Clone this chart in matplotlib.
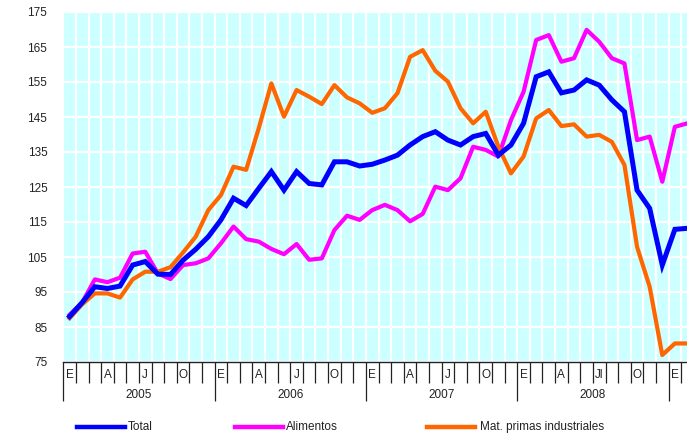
import matplotlib
matplotlib.use("Agg")
import matplotlib.pyplot as plt
from matplotlib.lines import Line2D
import matplotlib.transforms as mtransforms

plt.rcParams['font.family'] = ['Liberation Sans', 'DejaVu Sans']

# monthly index values, Jan 2005 .. Feb 2009
total = [88.0, 92.0, 96.5, 96.0, 96.7, 102.7, 103.7, 100.1, 100.0, 104.1, 107.2, 110.8,
         115.6, 121.8, 119.7, 124.6, 129.4, 124.1, 129.4, 126.0, 125.6, 132.2, 132.2, 131.0,
         131.5, 132.7, 134.1, 137.0, 139.4, 140.8, 138.4, 137.0, 139.4, 140.3, 134.1, 137.0,
         143.2, 156.5, 157.9, 151.9, 152.7, 155.6, 154.1, 149.9, 146.5, 124.1, 118.9, 102.7,
         112.9, 113.2]
alimentos = [88.5, 92.0, 98.6, 97.8, 99.1, 106.0, 106.5, 100.3, 98.7, 102.7, 103.2, 104.6,
             108.9, 113.7, 110.1, 109.4, 107.3, 105.8, 108.7, 104.2, 104.6, 112.7, 116.8, 115.6,
             118.4, 119.9, 118.4, 115.2, 117.3, 125.1, 124.1, 127.5, 136.5, 135.6, 133.7, 144.1,
             152.2, 167.0, 168.4, 160.8, 161.8, 169.9, 166.5, 161.8, 160.3, 138.4, 139.4, 126.5,
             142.2, 143.2]
mat_primas = [87.5, 91.5, 94.6, 94.6, 93.4, 98.6, 100.8, 100.8, 102.1, 106.3, 110.8, 118.4,
              122.7, 130.8, 129.9, 141.8, 154.6, 145.1, 152.7, 150.8, 148.7, 154.1, 150.6, 148.9,
              146.2, 147.5, 151.8, 162.2, 164.1, 158.2, 155.1, 147.5, 143.2, 146.5, 136.5, 128.9,
              133.7, 144.6, 147.0, 142.4, 142.9, 139.4, 139.9, 137.9, 131.3, 107.9, 96.5, 77.0,
              80.3, 80.3]

years = ['2005', '2006', '2007', '2008']
month_labels = {0: 'E', 3: 'A', 6: 'J', 9: 'O'}
yticks = list(range(75, 176, 10))

W, H = 687, 438
fig = plt.figure(figsize=(W / 100, H / 100), dpi=100)
ax = fig.add_axes([63.3 / W, 1 - 362 / H, (W - 63.3) / W, 350 / H])
ax.set_facecolor('#ccffff')

x = [i + 0.5 for i in range(len(total))]
ax.plot(x, total, color='#0000ff', lw=3.6, solid_joinstyle='miter', zorder=5)
ax.plot(x, alimentos, color='#ff00ff', lw=3.0, zorder=4)
ax.plot(x, mat_primas, color='#ff6600', lw=3.0, zorder=4)

ax.set_xlim(0, (W - 63.3) / 12.61)
ax.set_ylim(75, 175)

# grid: white lines at month boundaries and every 10 points
ax.set_xticks(range(0, 50, 12))
ax.set_xticks(range(0, 50), minor=True)
ax.set_xticklabels([])
ax.set_yticks(yticks)
ax.set_yticklabels([str(v) for v in yticks], fontsize=8.5)
ax.grid(True, which='both', axis='x', color='white', lw=1.6)
ax.grid(True, which='major', axis='y', color='white', lw=1.6)
ax.set_axisbelow(True)
ax.tick_params(axis='y', length=0, pad=11.5, colors='#222222')
ax.tick_params(axis='x', which='minor', direction='out', length=15, width=0.9, color='#222222')
ax.tick_params(axis='x', which='major', direction='out', length=28, width=0.9, color='#222222')

for s in ['top', 'right', 'left']:
    ax.spines[s].set_visible(False)
ax.spines['bottom'].set_color('#222222')
ax.spines['bottom'].set_linewidth(1.0)

# month and year labels under the axis
trans = mtransforms.blended_transform_factory(ax.transData, fig.transFigure)
for y, yr in enumerate(years):
    for m, lab in month_labels.items():
        if yr == '2008' and m == 6:
            lab = 'Jl'
        ax.text(y * 12 + m + 0.5, 1 - 375 / H, lab, transform=trans, ha='center', va='center',
                fontsize=8.5, color='#222222')
    ax.text(y * 12 + 6, 1 - 395 / H, yr, transform=trans, ha='center', va='center',
            fontsize=8.5, color='#222222')
ax.text(48.5, 1 - 375 / H, 'E', transform=trans, ha='center', va='center', fontsize=8.5, color='#222222')

# legend
items = [('Total', '#0000ff', 77, 128), ('Alimentos', '#ff00ff', 235, 286),
         ('Mat. primas industriales', '#ff6600', 427, 480)]
for lab, col, x0, xt in items:
    fig.add_artist(Line2D([x0 / W, (x0 + 48) / W], [1 - 427 / H] * 2, color=col, lw=3.2,
                          transform=fig.transFigure))
    fig.text(xt / W, 1 - 427 / H, lab, ha='left', va='center', fontsize=8.5, color='#222222')

fig.savefig('out.png', dpi=100)
